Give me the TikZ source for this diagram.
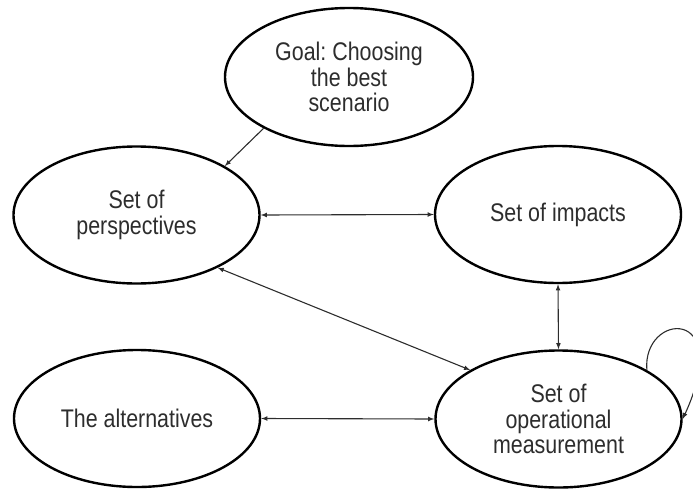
\documentclass[tikz,border=0pt]{standalone}
\usepackage{fontspec}
\setmainfont{Liberation Sans}[FakeStretch=0.84]
\usetikzlibrary{arrows,shapes}
\definecolor{txtgray}{RGB}{45,45,45}
\definecolor{arrgray}{RGB}{45,45,45}
\tikzset{
bubble/.style={draw=black,line width=2.4pt,ellipse,minimum width=246pt,minimum height=137pt,inner sep=0pt,align=center,text=txtgray,font=\fontsize{25.5}{25.7}\selectfont},
link/.style={draw=arrgray,line width=1.1pt,latex-latex},
onelink/.style={draw=arrgray,line width=1.1pt,-latex}
}
\frenchspacing
\begin{document}
\begin{tikzpicture}[x=1pt,y=-1pt]
\useasboundingbox (0,0) rectangle (693,490);
\clip (0,0) rectangle (693,490);
\node[bubble,minimum width=248pt,minimum height=138pt] (goal) at (349,77) {Goal: Choosing\\the best\\scenario};
\node[bubble] (persp) at (136.5,215) {Set of\\perspectives};
\node[bubble] (impacts) at (558,214.5) {Set of impacts};
\node[bubble] (alt) at (137,418.5) {The alternatives};
\node[bubble] (oper) at (558.5,419) {Set of\\operational\\measurement};
\draw[onelink] (goal.211) -- (persp.29);
\draw[link] (persp.east) -- (impacts.west);
\draw[link] (persp.-33) -- (oper.151);
\draw[link] (impacts.south) -- (oper.north);
\draw[link] (alt.east) -- (oper.west);
\draw[onelink] (oper.29) .. controls (642,312) and (735,305) .. (oper.east);
\end{tikzpicture}
\end{document}
